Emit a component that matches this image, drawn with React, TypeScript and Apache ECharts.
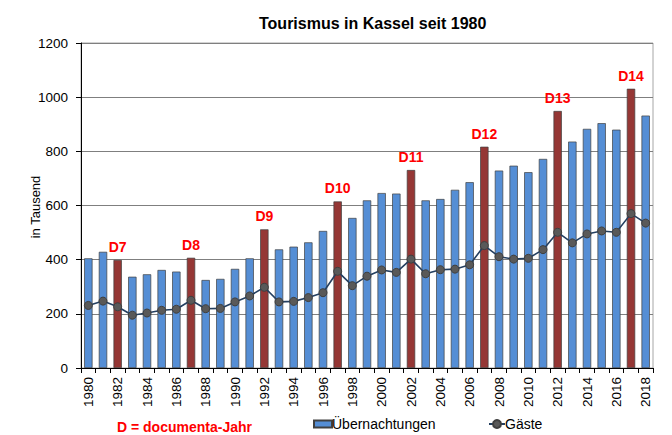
import React, { useEffect, useRef } from "react";
import * as echarts from "echarts";

const years = [
  "1980", "1981", "1982", "1983", "1984", "1985", "1986", "1987", "1988", "1989",
  "1990", "1991", "1992", "1993", "1994", "1995", "1996", "1997", "1998", "1999",
  "2000", "2001", "2002", "2003", "2004", "2005", "2006", "2007", "2008", "2009",
  "2010", "2011", "2012", "2013", "2014", "2015", "2016", "2017", "2018",
];

const uebernachtungen = [
  405, 429, 399, 337, 346, 362, 356, 407, 325, 329,
  366, 405, 512, 438, 448, 464, 506, 615, 554, 619,
  646, 644, 731, 619, 624, 658, 686, 817, 729, 747,
  723, 772, 949, 836, 883, 904, 880, 1031, 932,
];

const gaeste = [
  231, 247, 226, 195, 203, 213, 217, 250, 219, 220,
  244, 266, 298, 244, 246, 260, 278, 357, 304, 339,
  362, 353, 402, 348, 363, 365, 381, 452, 411, 402,
  405, 437, 501, 462, 495, 506, 501, 570, 535,
];

const documentaYears = ["1982", "1987", "1992", "1997", "2002", "2007", "2012", "2017"];
const documentaLabels = ["D7", "D8", "D9", "D10", "D11", "D12", "D13", "D14"];

const yTicks = { min: 0, max: 1200, interval: 200 };

const FONT = "Liberation Sans, Arial, sans-serif";
const BLUE = "#558ED5";
const RED = "#953735";

export default function App() {
  const ref = useRef<HTMLDivElement>(null);

  useEffect(() => {
    if (!ref.current) return;
    const chart = echarts.init(ref.current, undefined, { renderer: "svg" });

    const barData = uebernachtungen.map((v, i) => {
      const idx = documentaYears.indexOf(years[i]);
      if (idx >= 0) {
        return {
          value: v,
          itemStyle: { color: RED },
          label: {
            show: true,
            position: "top",
            distance: 6,
            formatter: documentaLabels[idx],
            color: "#FF0000",
            fontWeight: "bold",
            fontSize: 14,
            fontFamily: FONT,
          },
        };
      }
      return { value: v };
    });

    chart.setOption({
      animation: false,
      backgroundColor: "#ffffff",
      textStyle: { fontFamily: FONT },
      title: {
        text: "Tourismus in Kassel seit 1980",
        left: 254,
        top: 10,
        textStyle: { fontSize: 16, fontWeight: "bold", color: "#000", fontFamily: FONT },
      },
      grid: { left: 81, right: 19, top: 43, bottom: 67, show: true, borderColor: "#a6a6a6", borderWidth: 1 },
      legend: [
        {
          data: [{ name: "Übernachtungen", icon: "rect" }],
          left: 313,
          top: 417,
          padding: 0,
          itemWidth: 18,
          itemHeight: 7,
          itemGap: 2,
          textStyle: { fontSize: 14, color: "#000", fontFamily: FONT, padding: [0, 0, 0, -5] },
        },
        {
          data: [{ name: "Gäste" }],
          left: 488,
          top: 417,
          padding: 0,
          itemWidth: 16,
          itemHeight: 10,
          textStyle: { fontSize: 14, color: "#000", fontFamily: FONT, padding: [0, 0, 0, -5] },
        },
      ],
      graphic: [
        {
          type: "text",
          left: 117,
          top: 420,
          style: {
            text: "D = documenta-Jahr",
            fill: "#FF0000",
            font: "bold 14px " + FONT,
          },
        },
        {
          type: "text",
          x: 35,
          y: 207,
          rotation: Math.PI / 2,
          style: {
            text: "in Tausend",
            fill: "#000",
            font: "13px " + FONT,
            align: "center",
            verticalAlign: "middle",
          },
        },
      ],
      xAxis: {
        type: "category",
        data: years,
        boundaryGap: true,
        axisLine: { lineStyle: { color: "#000", width: 1 } },
        axisTick: { show: true, interval: 0, length: 5, lineStyle: { color: "#000" } },
        axisLabel: {
          interval: 1,
          rotate: 90,
          fontSize: 13.5,
          color: "#000",
          margin: 9,
          fontFamily: FONT,
        },
      },
      yAxis: {
        type: "value",
        min: yTicks.min,
        max: yTicks.max,
        interval: yTicks.interval,
        axisLine: { show: true, lineStyle: { color: "#000", width: 1 } },
        axisTick: { show: true, length: 5, lineStyle: { color: "#000" } },
        axisLabel: {
          fontSize: 13.5,
          color: "#000",
          margin: 13,
          fontFamily: FONT,
          formatter: (v: number) => String(v),
        },
        splitLine: { show: true, lineStyle: { color: "#7f7f7f", width: 1 } },
      },
      series: [
        {
          name: "Übernachtungen",
          type: "bar",
          data: barData,
          barWidth: "57%",
          itemStyle: { color: BLUE, borderColor: "#404040", borderWidth: 0.7 },
        },
        {
          name: "Gäste",
          type: "line",
          data: gaeste,
          symbol: "circle",
          symbolSize: 8,
          lineStyle: { color: "#243F60", width: 1.6 },
          itemStyle: { color: "#595959", borderColor: "#3f3f3f", borderWidth: 1 },
          z: 5,
        },
      ],
    });

    return () => chart.dispose();
  }, []);

  return (
    <div
      ref={ref}
      style={{ position: "absolute", left: 0, top: 0, width: 672, height: 435 }}
    />
  );
}
